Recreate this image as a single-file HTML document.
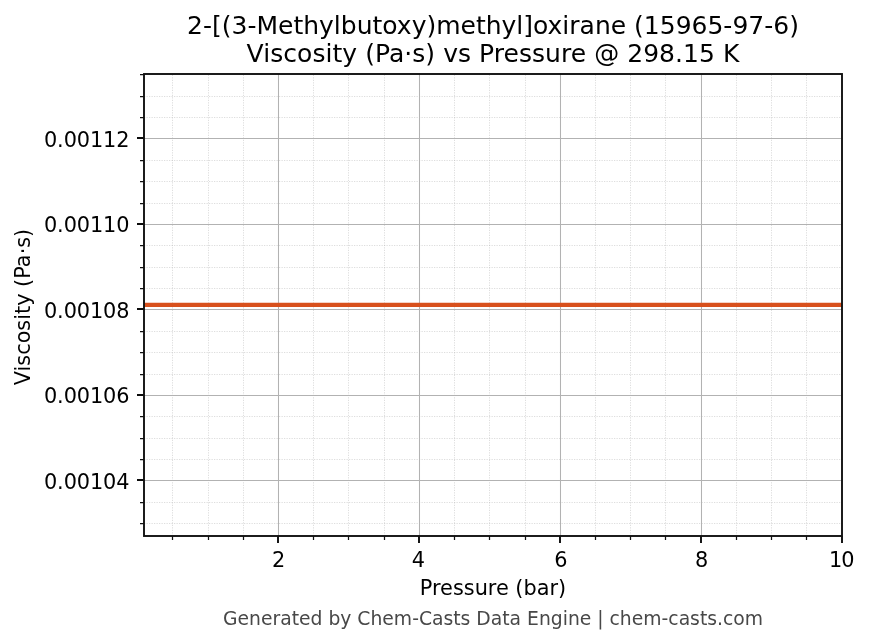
<!DOCTYPE html>
<html lang="en"><head><meta charset="utf-8"><title>Viscosity vs Pressure</title>
<style>html,body{margin:0;padding:0;background:#fff}body{width:869px;height:644px;overflow:hidden}svg{display:block}</style>
</head><body>
<svg width="869" height="644" viewBox="0 0 869 644" font-family="'DejaVu Sans', 'Liberation Sans', sans-serif">
<rect width="869" height="644" fill="#fff"/>
<path d="M172.50 536.0V74.0M208.50 536.0V74.0M243.50 536.0V74.0M313.50 536.0V74.0M348.50 536.0V74.0M384.50 536.0V74.0M454.50 536.0V74.0M489.50 536.0V74.0M525.50 536.0V74.0M595.50 536.0V74.0M630.50 536.0V74.0M665.50 536.0V74.0M736.50 536.0V74.0M771.50 536.0V74.0M806.50 536.0V74.0M144.0 523.50H842.0M144.0 502.50H842.0M144.0 459.50H842.0M144.0 438.50H842.0M144.0 416.50H842.0M144.0 374.50H842.0M144.0 352.50H842.0M144.0 331.50H842.0M144.0 288.50H842.0M144.0 267.50H842.0M144.0 245.50H842.0M144.0 203.50H842.0M144.0 181.50H842.0M144.0 160.50H842.0M144.0 117.50H842.0M144.0 96.50H842.0M144.0 74.50H842.0" stroke="#b0b0b0" stroke-opacity="0.42" stroke-width="1" stroke-dasharray="1.25 1.25" fill="none"/>
<path d="M278.50 74.0V536.0M419.50 74.0V536.0M560.50 74.0V536.0M701.50 74.0V536.0M144.0 480.50H842.0M144.0 395.50H842.0M144.0 309.50H842.0M144.0 224.50H842.0M144.0 138.50H842.0" stroke="#b2b2b2" stroke-width="1.04" fill="none"/>
<path d="M144.0 304.9H842.0" stroke="#d8501c" stroke-width="4.17" fill="none"/>
<path d="M278.00 536.0v7M419.00 536.0v7M560.00 536.0v7M701.00 536.0v7M842.00 536.0v7M144.0 480.00h-7M144.0 395.00h-7M144.0 309.00h-7M144.0 224.00h-7M144.0 138.00h-7" stroke="#0c0c0c" stroke-width="1.9" fill="none"/>
<path d="M172.50 536.0v4M208.50 536.0v4M243.50 536.0v4M313.50 536.0v4M348.50 536.0v4M384.50 536.0v4M454.50 536.0v4M489.50 536.0v4M525.50 536.0v4M595.50 536.0v4M630.50 536.0v4M665.50 536.0v4M736.50 536.0v4M771.50 536.0v4M806.50 536.0v4M144.0 523.50h-4M144.0 502.50h-4M144.0 459.50h-4M144.0 438.50h-4M144.0 416.50h-4M144.0 374.50h-4M144.0 352.50h-4M144.0 331.50h-4M144.0 288.50h-4M144.0 267.50h-4M144.0 245.50h-4M144.0 203.50h-4M144.0 181.50h-4M144.0 160.50h-4M144.0 117.50h-4M144.0 96.50h-4M144.0 74.50h-4" stroke="#111" stroke-width="1.25" fill="none"/>
<rect x="144.0" y="74.0" width="698.0" height="462.0" fill="none" stroke="#111" stroke-width="1.9"/>
<text x="278.64" y="567" font-size="20.83" text-anchor="middle" fill="#000">2</text>
<text x="418.5" y="567" font-size="20.83" text-anchor="middle" fill="#000">4</text>
<text x="560.85" y="567" font-size="20.83" text-anchor="middle" fill="#000">6</text>
<text x="701.6" y="567" font-size="20.83" text-anchor="middle" fill="#000">8</text>
<text x="828.95 841.3" y="567" font-size="20.83" fill="#000">10</text>
<text x="129.4" y="489" font-size="20.83" letter-spacing="-0.1" text-anchor="end" fill="#000">0.00104</text>
<text x="129.4" y="403" font-size="20.83" letter-spacing="-0.1" text-anchor="end" fill="#000">0.00106</text>
<text x="129.4" y="318" font-size="20.83" letter-spacing="-0.1" text-anchor="end" fill="#000">0.00108</text>
<text x="129.4" y="232" font-size="20.83" letter-spacing="-0.1" text-anchor="end" fill="#000">0.00110</text>
<text x="129.4" y="147" font-size="20.83" letter-spacing="-0.1" text-anchor="end" fill="#000">0.00112</text>
<text x="493.0" y="594.5" font-size="20.83" text-anchor="middle" fill="#000">Pressure (bar)</text>
<text transform="translate(29.5 307.0) rotate(-90)" font-size="20.83" text-anchor="middle" fill="#000">Viscosity (Pa·s)</text>
<text x="493.0" y="33.6" font-size="25.0" text-anchor="middle" fill="#000">2-[(3-Methylbutoxy)methyl]oxirane (15965-97-6)</text>
<text x="493.0" y="61.6" font-size="25.0" letter-spacing="0.045" text-anchor="middle" fill="#000">Viscosity (Pa·s) vs Pressure @ 298.15 K</text>
<text x="493.0" y="624.5" font-size="18.75" text-anchor="middle" fill="#484848">Generated by Chem-Casts Data Engine | chem-casts.com</text>
</svg>
</body></html>
